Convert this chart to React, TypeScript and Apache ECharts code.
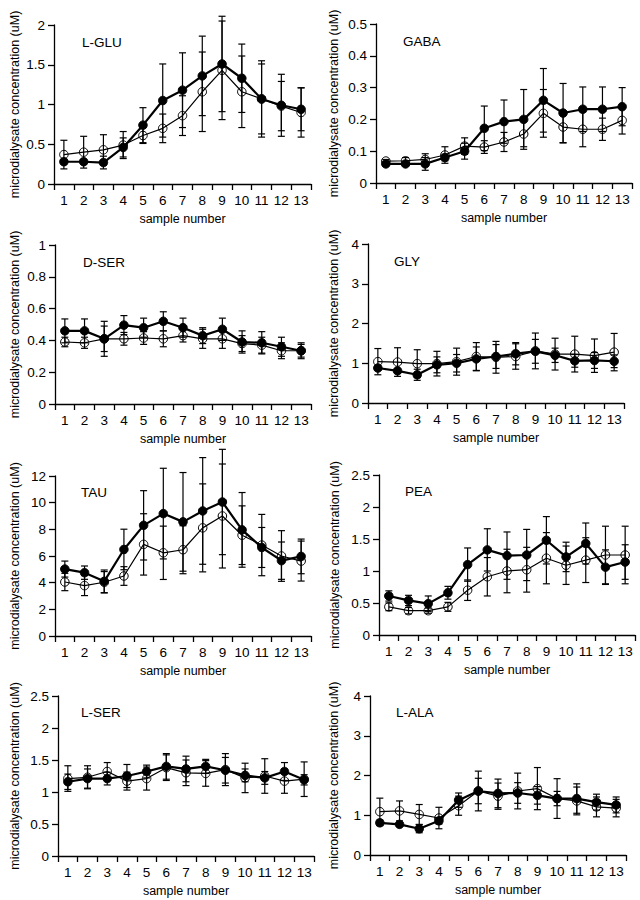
import React, { useEffect, useRef } from "react";
import * as echarts from "echarts";

const samples = ["1", "2", "3", "4", "5", "6", "7", "8", "9", "10", "11", "12", "13"];

// L-GLU
const gluFilled = [0.28, 0.28, 0.27, 0.46, 0.74, 1.05, 1.18, 1.36, 1.51, 1.33, 1.07, 0.99, 0.94];
const gluFilledErr = [0.03, 0.03, 0.08, 0.12, 0.22, 0.46, 0.47, 0.5, 0.6, 0.43, 0.48, 0.39, 0.27];
const gluOpen = [0.37, 0.4, 0.43, 0.49, 0.61, 0.7, 0.86, 1.16, 1.43, 1.16, 1.07, 0.98, 0.9];
const gluOpenErr = [0.18, 0.2, 0.19, 0.17, 0.1, 0.18, 0.25, 0.5, 0.62, 0.45, 0.44, 0.31, 0.31];

// GABA
const gabaFilled = [0.06, 0.06, 0.06, 0.08, 0.1, 0.172, 0.193, 0.2, 0.26, 0.22, 0.232, 0.232, 0.24];
const gabaFilledErr = [0.005, 0.005, 0.02, 0.01, 0.025, 0.07, 0.068, 0.094, 0.1, 0.093, 0.07, 0.07, 0.06];
const gabaOpen = [0.069, 0.07, 0.074, 0.088, 0.116, 0.113, 0.129, 0.154, 0.219, 0.176, 0.169, 0.169, 0.197];
const gabaOpenErr = [0.005, 0.01, 0.018, 0.026, 0.026, 0.02, 0.03, 0.04, 0.075, 0.05, 0.055, 0.035, 0.043];

// D-SER
const dserFilled = [0.46, 0.46, 0.41, 0.496, 0.48, 0.52, 0.48, 0.43, 0.47, 0.39, 0.385, 0.36, 0.335];
const dserFilledErr = [0.075, 0.075, 0.11, 0.06, 0.06, 0.06, 0.06, 0.05, 0.07, 0.07, 0.07, 0.06, 0.05];
const dserOpen = [0.39, 0.385, 0.41, 0.41, 0.415, 0.41, 0.43, 0.41, 0.41, 0.38, 0.37, 0.335, 0.335];
const dserOpenErr = [0.03, 0.035, 0.08, 0.04, 0.04, 0.05, 0.04, 0.06, 0.06, 0.05, 0.05, 0.05, 0.04];

// GLY
const glyFilled = [0.88, 0.81, 0.71, 0.96, 1.0, 1.11, 1.17, 1.24, 1.3, 1.2, 1.06, 1.07, 1.05];
const glyFilledErr = [0.05, 0.05, 0.14, 0.2, 0.22, 0.3, 0.3, 0.28, 0.3, 0.18, 0.16, 0.2, 0.16];
const glyOpen = [1.04, 1.03, 0.99, 0.99, 1.04, 1.17, 1.15, 1.17, 1.31, 1.23, 1.23, 1.19, 1.28];
const glyOpenErr = [0.33, 0.36, 0.35, 0.31, 0.34, 0.35, 0.4, 0.32, 0.45, 0.4, 0.45, 0.42, 0.47];

// TAU
const tauFilled = [5.02, 4.75, 4.1, 6.49, 8.3, 9.18, 8.56, 9.38, 10.05, 7.96, 6.64, 5.65, 5.97];
const tauFilledErr = [0.6, 0.5, 0.85, 1.52, 2.6, 3.4, 3.7, 4.0, 3.95, 2.8, 1.5, 1.4, 1.3];
const tauOpen = [4.05, 3.78, 4.03, 4.5, 6.87, 6.24, 6.47, 8.11, 9.0, 7.56, 6.82, 6.0, 5.62];
const tauOpenErr = [0.65, 0.75, 0.8, 0.7, 2.3, 2.0, 1.8, 3.3, 3.9, 2.2, 2.3, 1.9, 1.5];

// PEA
const peaFilled = [0.61, 0.54, 0.49, 0.66, 1.1, 1.33, 1.24, 1.25, 1.48, 1.22, 1.43, 1.06, 1.14];
const peaFilledErr = [0.08, 0.08, 0.12, 0.1, 0.26, 0.33, 0.37, 0.4, 0.37, 0.23, 0.32, 0.27, 0.27];
const peaOpen = [0.44, 0.38, 0.38, 0.44, 0.7, 0.91, 1.0, 1.02, 1.2, 1.09, 1.17, 1.25, 1.25];
const peaOpenErr = [0.06, 0.05, 0.04, 0.07, 0.16, 0.3, 0.34, 0.35, 0.4, 0.3, 0.35, 0.45, 0.45];

// L-SER
const lserFilled = [1.16, 1.21, 1.21, 1.25, 1.32, 1.4, 1.36, 1.4, 1.34, 1.26, 1.22, 1.32, 1.19];
const lserFilledErr = [0.12, 0.15, 0.1, 0.18, 0.1, 0.2, 0.2, 0.11, 0.2, 0.1, 0.1, 0.14, 0.08];
const lserOpen = [1.21, 1.23, 1.32, 1.17, 1.21, 1.38, 1.3, 1.29, 1.35, 1.22, 1.25, 1.17, 1.2];
const lserOpenErr = [0.2, 0.18, 0.14, 0.14, 0.18, 0.2, 0.2, 0.2, 0.25, 0.23, 0.27, 0.19, 0.27];

// L-ALA
const lalaFilled = [0.81, 0.77, 0.66, 0.86, 1.38, 1.61, 1.55, 1.56, 1.5, 1.42, 1.42, 1.33, 1.26];
const lalaFilledErr = [0.07, 0.05, 0.1, 0.08, 0.18, 0.32, 0.36, 0.26, 0.22, 0.18, 0.37, 0.2, 0.2];
const lalaOpen = [1.09, 1.11, 1.02, 0.93, 1.24, 1.61, 1.48, 1.61, 1.67, 1.42, 1.36, 1.21, 1.18];
const lalaOpenErr = [0.34, 0.25, 0.25, 0.27, 0.24, 0.5, 0.33, 0.45, 0.53, 0.5, 0.35, 0.25, 0.22];

const panelNames = ["L-GLU", "GABA", "D-SER", "GLY", "TAU", "PEA", "L-SER", "L-ALA"];
const yMax = [2, 0.5, 1, 4, 12, 2.5, 2.5, 4];
const yInterval = [0.5, 0.1, 0.2, 1, 2, 0.5, 0.5, 1];
const filledSeries = [gluFilled, gabaFilled, dserFilled, glyFilled, tauFilled, peaFilled, lserFilled, lalaFilled];
const filledErrs = [gluFilledErr, gabaFilledErr, dserFilledErr, glyFilledErr, tauFilledErr, peaFilledErr, lserFilledErr, lalaFilledErr];
const openSeries = [gluOpen, gabaOpen, dserOpen, glyOpen, tauOpen, peaOpen, lserOpen, lalaOpen];
const openErrs = [gluOpenErr, gabaOpenErr, dserOpenErr, glyOpenErr, tauOpenErr, peaOpenErr, lserOpenErr, lalaOpenErr];

// layout (pixels)
const layout = [
  { left: 54, top: 25, width: 257, height: 159, label: [82, 35], yGap: 33 },
  { left: 376, top: 24, width: 256, height: 159, label: [403, 34], yGap: 36 },
  { left: 55, top: 245, width: 256, height: 159, label: [83, 255], yGap: 34 },
  { left: 368, top: 244, width: 256, height: 159, label: [394, 254], yGap: 28 },
  { left: 55, top: 476, width: 256, height: 160, label: [81, 485], yGap: 34 },
  { left: 379, top: 475, width: 256, height: 160, label: [405, 484], yGap: 38 },
  { left: 58, top: 696, width: 256, height: 160, label: [81, 705], yGap: 37 },
  { left: 370, top: 696, width: 256, height: 159, label: [396, 705], yGap: 30 },
];

const FONT = "'Liberation Sans', Arial, Helvetica, sans-serif";

function errorBarSeries(idx: number, means: number[], errs: number[]) {
  const data = means.map((m, i) => [i, m - errs[i], m + errs[i]]);
  return {
    type: "custom",
    xAxisIndex: idx,
    yAxisIndex: idx,
    clip: false,
    z: 1,
    encode: { x: 0, y: [1, 2] },
    data,
    renderItem: (params: any, api: any) => {
      const x = api.value(0);
      const lo = api.coord([x, api.value(1)]);
      const hi = api.coord([x, api.value(2)]);
      const h = 3.5;
      const style = { stroke: "#000", lineWidth: 1.2 };
      return {
        type: "group",
        children: [
          { type: "line", shape: { x1: hi[0], y1: hi[1], x2: lo[0], y2: lo[1] }, style },
          { type: "line", shape: { x1: hi[0] - h, y1: hi[1], x2: hi[0] + h, y2: hi[1] }, style },
          { type: "line", shape: { x1: lo[0] - h, y1: lo[1], x2: lo[0] + h, y2: lo[1] }, style },
        ],
      };
    },
  };
}

export default function App() {
  const ref = useRef<HTMLDivElement>(null);
  useEffect(() => {
    if (!ref.current) return;
    const chart = echarts.init(ref.current, null, { renderer: "svg" });
    const grid: any[] = [];
    const xAxis: any[] = [];
    const yAxis: any[] = [];
    const title: any[] = [];
    const series: any[] = [];
    panelNames.forEach((name, i) => {
      const L = layout[i];
      grid.push({ left: L.left, top: L.top, width: L.width, height: L.height });
      xAxis.push({
        type: "category",
        gridIndex: i,
        data: samples,
        boundaryGap: true,
        name: "sample number",
        nameLocation: "middle",
        nameGap: 28,
        nameTextStyle: { fontSize: 12.5, color: "#000", fontFamily: FONT },
        axisLine: { show: true, lineStyle: { color: "#000", width: 1.3 } },
        axisTick: { show: true, length: 6, inside: false, lineStyle: { color: "#000", width: 1.3 } },
        axisLabel: { interval: 0, margin: 9, fontSize: 13.5, color: "#000", fontFamily: FONT },
        splitLine: { show: false },
      });
      yAxis.push({
        type: "value",
        gridIndex: i,
        min: 0,
        max: yMax[i],
        interval: yInterval[i],
        name: "microdialysate concentration (uM)",
        nameLocation: "middle",
        nameGap: L.yGap,
        nameTextStyle: { fontSize: 12.5, color: "#000", fontFamily: FONT },
        axisLine: { show: true, lineStyle: { color: "#000", width: 1.3 } },
        axisTick: { show: true, length: 6, inside: false, lineStyle: { color: "#000", width: 1.3 } },
        axisLabel: { margin: 9, fontSize: 13.5, color: "#000", fontFamily: FONT },
        splitLine: { show: false },
      });
      title.push({
        text: name,
        left: L.label[0],
        top: L.label[1],
        padding: 0,
        textStyle: { fontSize: 13.5, fontWeight: "normal", color: "#000", fontFamily: FONT },
      });
      series.push(errorBarSeries(i, openSeries[i], openErrs[i]));
      series.push(errorBarSeries(i, filledSeries[i], filledErrs[i]));
      series.push({
        type: "line",
        xAxisIndex: i,
        yAxisIndex: i,
        data: openSeries[i],
        symbol: "circle",
        symbolSize: 8.5,
        z: 3,
        lineStyle: { color: "#000", width: 1.2 },
        itemStyle: { color: "rgba(0,0,0,0)", borderColor: "#000", borderWidth: 1 },
      });
      series.push({
        type: "line",
        xAxisIndex: i,
        yAxisIndex: i,
        data: filledSeries[i],
        symbol: "circle",
        symbolSize: 8.5,
        z: 4,
        lineStyle: { color: "#000", width: 2.2 },
        itemStyle: { color: "#000", borderColor: "#000", borderWidth: 1 },
      });
    });
    chart.setOption({
      animation: false,
      backgroundColor: "#fff",
      textStyle: { fontFamily: FONT },
      title,
      grid,
      xAxis,
      yAxis,
      series,
    });
    return () => chart.dispose();
  }, []);
  return (
    <div
      ref={ref}
      style={{ position: "absolute", left: 0, top: 0, width: 640, height: 900, background: "#fff" }}
    />
  );
}
